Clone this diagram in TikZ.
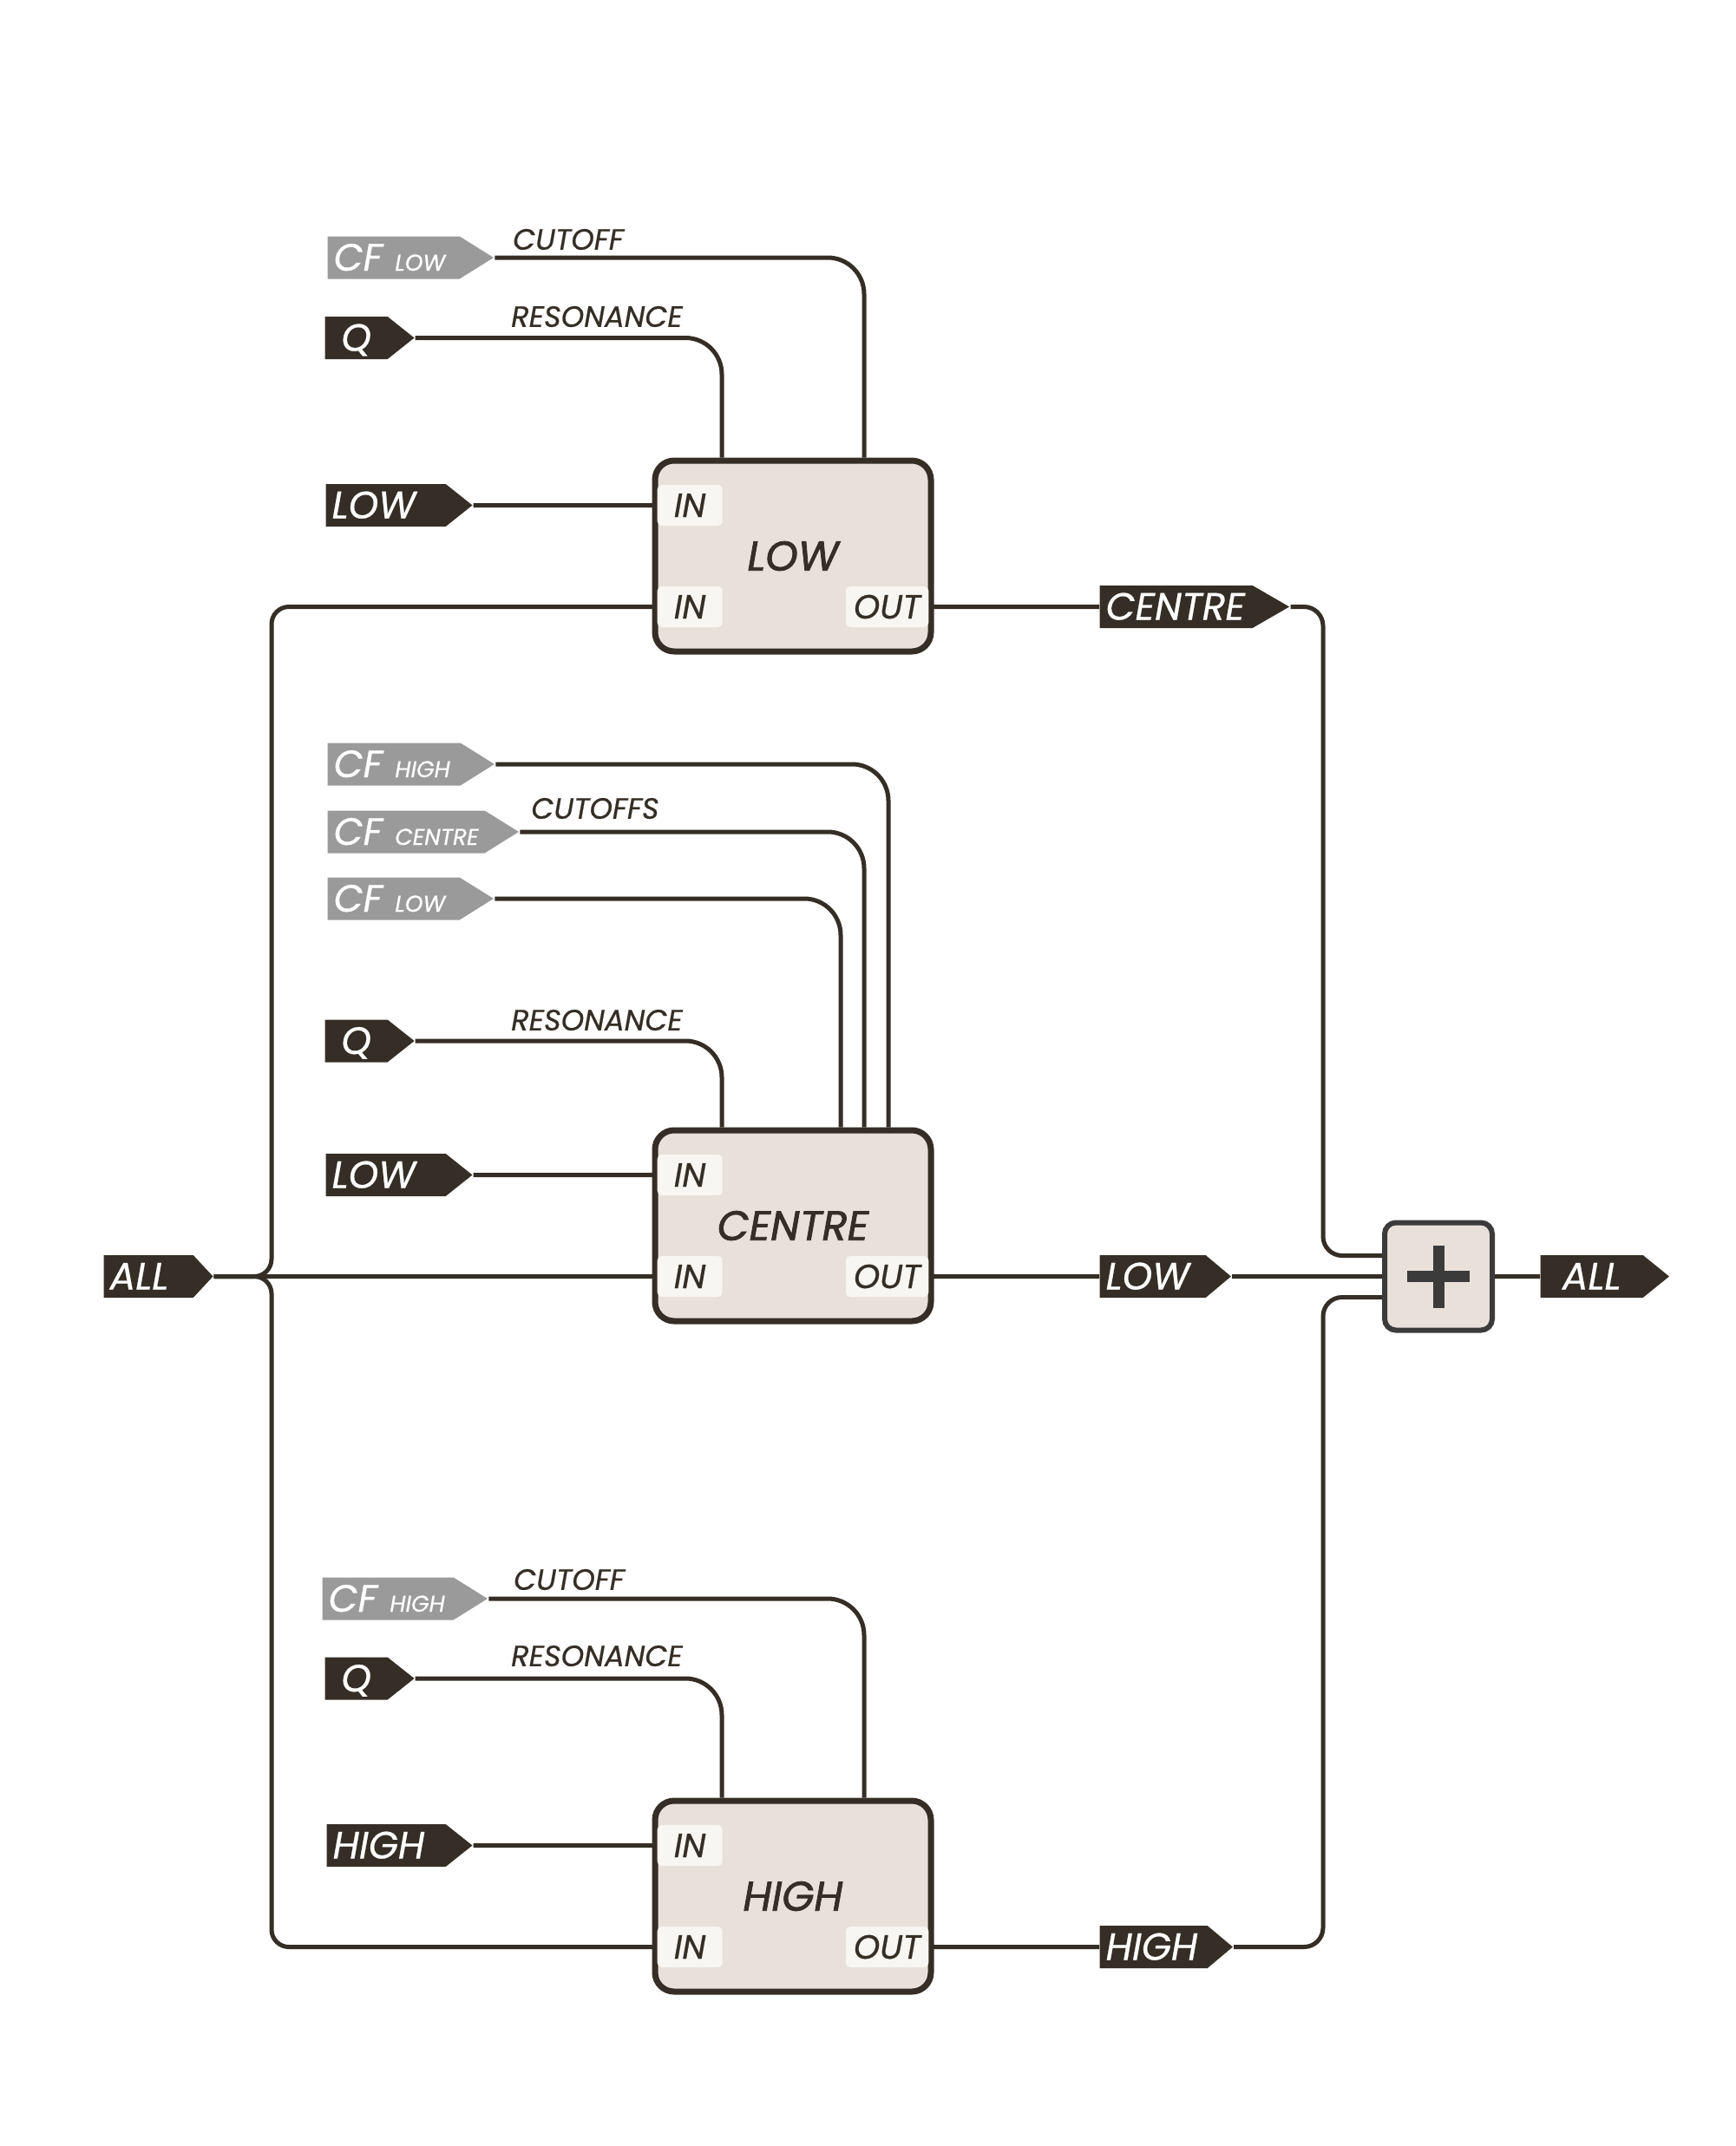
\documentclass[tikz,border=0pt]{standalone}
\usepackage{fontspec}
\setmainfont{Poppins}[FakeBold=0.6]
\newfontfamily\titlefont{Poppins}[FakeBold=1.6]
\usepackage{xcolor}
\usetikzlibrary{shapes.symbols, positioning, backgrounds}
\definecolor{wiredark}{HTML}{342E26}
\definecolor{taggray}{HTML}{9A9A9A}
\definecolor{boxfill}{HTML}{E8E1DA}
\definecolor{tabfill}{HTML}{F8F6F2}
\definecolor{plusgray}{HTML}{3B3B3B}

\begin{document}
\begin{tikzpicture}[
  tag/.style={signal, signal to=east, signal pointer angle=77, fill=wiredark, text=white, inner xsep=0.07cm, inner ysep=0pt, minimum height=0.49cm, text height=0.3cm, text depth=0pt, anchor=west, align=left, font=\fontsize{12.5pt}{14pt}\selectfont\itshape},
  cftag/.style={tag, fill=taggray, signal pointer angle=64},
  filter/.style={rectangle, draw=wiredark, fill=boxfill, line width=0.07cm, rounded corners=0.22cm, minimum width=3.18cm, minimum height=2.2cm, text=wiredark, font=\titlefont\fontsize{13.6pt}{16pt}\selectfont\itshape},
  tab/.style={fill=tabfill, rounded corners=0.05cm, minimum height=0.47cm, minimum width=0.75cm, inner xsep=0.09cm, inner ysep=0pt, text height=0.27cm, text depth=0pt, text=wiredark, font=\fontsize{11pt}{13pt}\selectfont\itshape},
  param/.style={inner sep=0pt, text=wiredark, font=\fontsize{9.6pt}{11pt}\selectfont\itshape},
  sum/.style={rectangle, draw=plusgray, fill=boxfill, line width=0.06cm, rounded corners=0.13cm, minimum size=1.24cm},
  wire/.style={draw=wiredark, line width=0.05cm}
]
  \useasboundingbox (0,0) rectangle (20,-24.74);

  % Filters
  \node[filter] (lowbox) at (9.14,-6.41) {LOW};
  \node[filter] (centrebox) at (9.14,-14.13) {CENTRE};
  \node[filter] (highbox) at (9.14,-21.86) {HIGH};

  % Ports
  \node[tab, anchor=west] (lowin1) at (7.57,-5.825) {IN};
  \node[tab, anchor=west] (lowin2) at (7.57,-6.995) {IN};
  \node[tab, anchor=east] (lowout) at (10.71,-6.995) {OUT};
  \node[tab, anchor=west] (centrein1) at (7.57,-13.545) {IN};
  \node[tab, anchor=west] (centrein2) at (7.57,-14.715) {IN};
  \node[tab, anchor=east] (centreout) at (10.71,-14.715) {OUT};
  \node[tab, anchor=west] (highin1) at (7.57,-21.275) {IN};
  \node[tab, anchor=west] (highin2) at (7.57,-22.445) {IN};
  \node[tab, anchor=east] (highout) at (10.71,-22.445) {OUT};

  % Inputs of the low filter
  \node[cftag, text width=1.38cm] (cfA) at (3.77,-2.97) {\mbox{CF {\fontsize{7.5pt}{9pt}\selectfont LOW}}};
  \node[tag, text width=0.58cm, align=center] (qA) at (3.74,-3.895) {Q};
  \node[tag, text width=1.24cm] (lowA) at (3.75,-5.825) {LOW};
  \node[param] (cutA) at (6.55,-2.76) {CUTOFF};
  \node[param] (resA) at (6.88,-3.65) {RESONANCE};

  % Inputs of the centre filter
  \node[cftag, text width=1.39cm] (cfhB) at (3.77,-8.81) {\mbox{CF {\fontsize{7.5pt}{9pt}\selectfont HIGH}}};
  \node[cftag, text width=1.67cm] (cfcB) at (3.77,-9.59) {\mbox{CF {\fontsize{7.5pt}{9pt}\selectfont CENTRE}}};
  \node[cftag, text width=1.38cm] (cflB) at (3.77,-10.36) {\mbox{CF {\fontsize{7.5pt}{9pt}\selectfont LOW}}};
  \node[tag, text width=0.58cm, align=center] (qB) at (3.74,-12.00) {Q};
  \node[tag, text width=1.24cm] (lowB) at (3.75,-13.545) {LOW};
  \node[param] (cutB) at (6.86,-9.32) {CUTOFFS};
  \node[param] (resB) at (6.88,-11.76) {RESONANCE};

  % Inputs of the high filter
  \node[cftag, text width=1.37cm] (cfC) at (3.71,-18.43) {\mbox{CF {\fontsize{7.5pt}{9pt}\selectfont HIGH}}};
  \node[tag, text width=0.58cm, align=center] (qC) at (3.74,-19.35) {Q};
  \node[tag, text width=1.23cm] (highC) at (3.76,-21.275) {HIGH};
  \node[param] (cutC) at (6.56,-18.21) {CUTOFF};
  \node[param] (resC) at (6.88,-19.09) {RESONANCE};

  % Signal in and out
  \node[tag, text width=0.89cm, signal pointer angle=94] (allin) at (1.19,-14.715) {ALL};
  \node[tag, text width=1.62cm, signal pointer angle=60] (centreR) at (12.67,-6.995) {CENTRE};
  \node[tag, text width=1.08cm, signal pointer angle=80] (lowR) at (12.67,-14.715) {LOW};
  \node[tag, text width=1.10cm, signal pointer angle=80] (highR) at (12.67,-22.445) {HIGH};
  \node[sum] (sum) at (16.58,-14.715) {};
  \draw[plusgray, line width=0.13cm] ([yshift=-0.36cm]sum.center) -- ([yshift=0.36cm]sum.center)
    ([xshift=-0.36cm]sum.center) -- ([xshift=0.36cm]sum.center);
  \node[tag, text width=1.04cm, signal pointer angle=78, align=center] (allout) at (17.75,-14.715) {ALL};

  \coordinate (busL) at (3.13,-14.715);
  \coordinate (busRtop) at (15.25,-14.475);
  \coordinate (busRbot) at (15.25,-14.955);

  % Wires
  \begin{scope}[on background layer]
    \draw[wire, rounded corners=0.42cm] (cfA) -| ([xshift=0.82cm]lowbox.north);
    \draw[wire, rounded corners=0.42cm] (qA) -| ([xshift=-0.82cm]lowbox.north);
    \draw[wire] (lowA) -- (lowin1);

    \draw[wire, rounded corners=0.42cm] (cfhB) -| ([xshift=1.10cm]centrebox.north);
    \draw[wire, rounded corners=0.42cm] (cfcB) -| ([xshift=0.82cm]centrebox.north);
    \draw[wire, rounded corners=0.42cm] (cflB) -| ([xshift=0.55cm]centrebox.north);
    \draw[wire, rounded corners=0.42cm] (qB) -| ([xshift=-0.82cm]centrebox.north);
    \draw[wire] (lowB) -- (centrein1);

    \draw[wire, rounded corners=0.42cm] (cfC) -| ([xshift=0.82cm]highbox.north);
    \draw[wire, rounded corners=0.42cm] (qC) -| ([xshift=-0.82cm]highbox.north);
    \draw[wire] (highC) -- (highin1);

    \draw[wire] (allin) -- (centrein2);
    \draw[wire, rounded corners=0.2cm] (allin.east) -- (busL) |- (lowin2);
    \draw[wire, rounded corners=0.2cm] (allin.east) -- (busL) |- (highin2);

    \draw[wire] (lowout) -- (centreR);
    \draw[wire] (centreout) -- (lowR);
    \draw[wire] (highout) -- (highR);
    \draw[wire, rounded corners=0.22cm] (centreR.east) -| (busRtop) -- (busRtop -| sum.west);
    \draw[wire] (lowR) -- (sum);
    \draw[wire, rounded corners=0.22cm] (highR.east) -| (busRbot) -- (busRbot -| sum.west);
    \draw[wire] (sum) -- (allout);
  \end{scope}
\end{tikzpicture}
\end{document}
